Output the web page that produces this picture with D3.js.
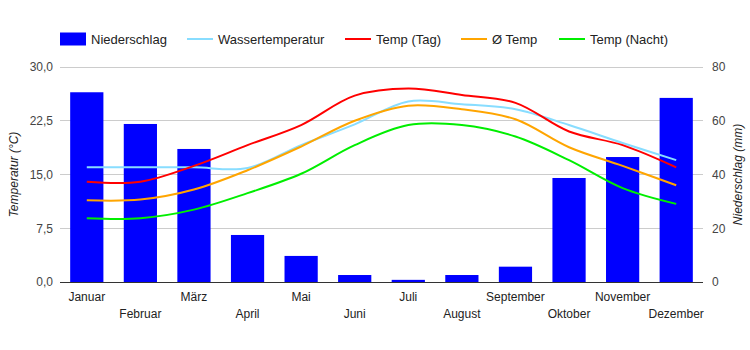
<!DOCTYPE html>
<html>
<head>
<meta charset="utf-8">
<script src="https://cdn.jsdelivr.net/npm/d3@7"></script>
<style>
  body { margin: 0; background: #fff; }
  svg { font-family: "Liberation Sans", Arial, sans-serif; }
</style>
</head>
<body>
<div id="chart"></div>
<script>
// Data
var months = ["Januar", "Februar", "März", "April", "Mai", "Juni", "Juli", "August", "September", "Oktober", "November", "Dezember"];
var rain = [70.6, 58.8, 49.5, 17.5, 9.7, 2.6, 0.8, 2.6, 5.7, 38.7, 46.5, 68.5];
var waterTemp = [16.0, 16.0, 16.0, 15.9, 19.1, 22.0, 25.2, 24.8, 24.1, 21.9, 19.4, 17.0];
var dayTemp = [14.0, 14.0, 16.2, 19.1, 21.9, 26.0, 27.0, 26.1, 25.0, 21.0, 19.1, 16.0];
var avgTemp = [11.4, 11.5, 12.9, 15.6, 18.9, 22.5, 24.6, 24.1, 22.7, 18.8, 16.2, 13.5];
var nightTemp = [8.9, 8.9, 10.1, 12.4, 15.1, 19.1, 21.9, 21.9, 20.3, 17.0, 13.1, 10.9];
var tempTicks = [0, 7.5, 15, 22.5, 30];
var rainTicks = [0, 20, 40, 60, 80];

function init() {
    var width = 750, height = 350;
    var left = 60, right = 703, top = 67, bottom = 282;

    var svg = d3.select("#chart").append("svg")
        .attr("width", width)
        .attr("height", height);

    var x = d3.scaleBand().domain(months).range([left, right]).paddingInner(0.38).paddingOuter(0.19);
    var xc = d3.scaleBand().domain(months).range([left, right]);
    var yT = d3.scaleLinear().domain([0, 30]).range([bottom, top]);
    var yR = d3.scaleLinear().domain([0, 80]).range([bottom, top]);
    var fmt = function(d) { return d.toFixed(1).replace(".", ","); };

    // gridlines
    svg.append("g").selectAll("line")
        .data(tempTicks.slice(1))
        .enter().append("line")
        .attr("x1", left).attr("x2", right)
        .attr("y1", d => yT(d)).attr("y2", d => yT(d))
        .attr("stroke", "#cccccc").attr("stroke-width", 1)
        .attr("shape-rendering", "crispEdges");

    // left axis labels
    var leftAxis = d3.axisLeft(yT).tickValues(tempTicks).tickFormat(fmt).tickSize(0).tickPadding(7);
    var la = svg.append("g").attr("transform", "translate(" + left + ",0)").call(leftAxis);
    la.select(".domain").remove();
    la.selectAll("text").attr("font-size", 12).attr("fill", "#444").attr("font-family", "Liberation Sans, Arial, sans-serif");

    // right axis labels
    var rightAxis = d3.axisRight(yR).tickValues(rainTicks).tickSize(0).tickPadding(9);
    var ra = svg.append("g").attr("transform", "translate(" + right + ",0)").call(rightAxis);
    ra.select(".domain").remove();
    ra.selectAll("text").attr("font-size", 12).attr("fill", "#444").attr("font-family", "Liberation Sans, Arial, sans-serif");

    // bars
    svg.append("g").selectAll("rect")
        .data(rain)
        .enter().append("rect")
        .attr("x", (d, i) => x(months[i]))
        .attr("width", x.bandwidth())
        .attr("y", d => yR(d))
        .attr("height", d => bottom - yR(d))
        .attr("fill", "#0000ff");

    // baseline
    svg.append("line")
        .attr("x1", left).attr("x2", right)
        .attr("y1", bottom + 0.5).attr("y2", bottom + 0.5)
        .attr("stroke", "#333").attr("stroke-width", 1);

    // lines
    var series = [
        { name: "Wassertemperatur", values: waterTemp, color: "#88ddff" },
        { name: "Temp (Tag)", values: dayTemp, color: "#ff0000" },
        { name: "Ø Temp", values: avgTemp, color: "#ffa500" },
        { name: "Temp (Nacht)", values: nightTemp, color: "#00ee00" }
    ];
    var line = d3.line()
        .x((d, i) => xc(months[i]) + xc.bandwidth() / 2)
        .y(d => yT(d))
        .curve(d3.curveCatmullRom.alpha(0.5));

    svg.append("g").selectAll("path")
        .data(series)
        .enter().append("path")
        .attr("d", d => line(d.values))
        .attr("fill", "none")
        .attr("stroke", d => d.color)
        .attr("stroke-width", 2);

    // x labels, alternating rows
    svg.append("g").selectAll("text")
        .data(months)
        .enter().append("text")
        .attr("x", d => xc(d) + xc.bandwidth() / 2)
        .attr("y", (d, i) => i % 2 === 0 ? 301 : 318)
        .attr("text-anchor", "middle")
        .attr("font-size", 12)
        .attr("fill", "#222")
        .text(d => d);

    // axis titles
    svg.append("text")
        .attr("transform", "translate(18," + ((top + bottom) / 2) + ") rotate(-90)")
        .attr("text-anchor", "middle")
        .attr("font-size", 12)
        .attr("font-style", "italic")
        .attr("fill", "#222")
        .text("Temperatur (°C)");

    svg.append("text")
        .attr("transform", "translate(742," + ((top + bottom) / 2) + ") rotate(-90)")
        .attr("text-anchor", "middle")
        .attr("font-size", 12)
        .attr("font-style", "italic")
        .attr("fill", "#222")
        .text("Niederschlag (mm)");

    // legend
    var legendItems = [
        { name: "Niederschlag", color: "#0000ff", bar: true, x: 60 },
        { name: "Wassertemperatur", color: "#88ddff", x: 187 },
        { name: "Temp (Tag)", color: "#ff0000", x: 345 },
        { name: "Ø Temp", color: "#ffa500", x: 461 },
        { name: "Temp (Nacht)", color: "#00ee00", x: 559 }
    ];
    var legend = svg.append("g").selectAll("g")
        .data(legendItems)
        .enter().append("g")
        .attr("transform", d => "translate(" + d.x + ",39)");

    legend.filter(d => d.bar).append("rect")
        .attr("x", 0).attr("y", -6.5)
        .attr("width", 26).attr("height", 13)
        .attr("fill", d => d.color);
    legend.filter(d => !d.bar).append("line")
        .attr("x1", 0).attr("x2", 26)
        .attr("y1", 0).attr("y2", 0)
        .attr("stroke", d => d.color)
        .attr("stroke-width", 2);
    legend.append("text")
        .attr("x", d => d.bar ? 31 : 31)
        .attr("y", 5)
        .attr("font-size", 13)
        .attr("fill", "#222")
        .text(d => d.name);
}
window.onload = init;
</script>
</body>
</html>
